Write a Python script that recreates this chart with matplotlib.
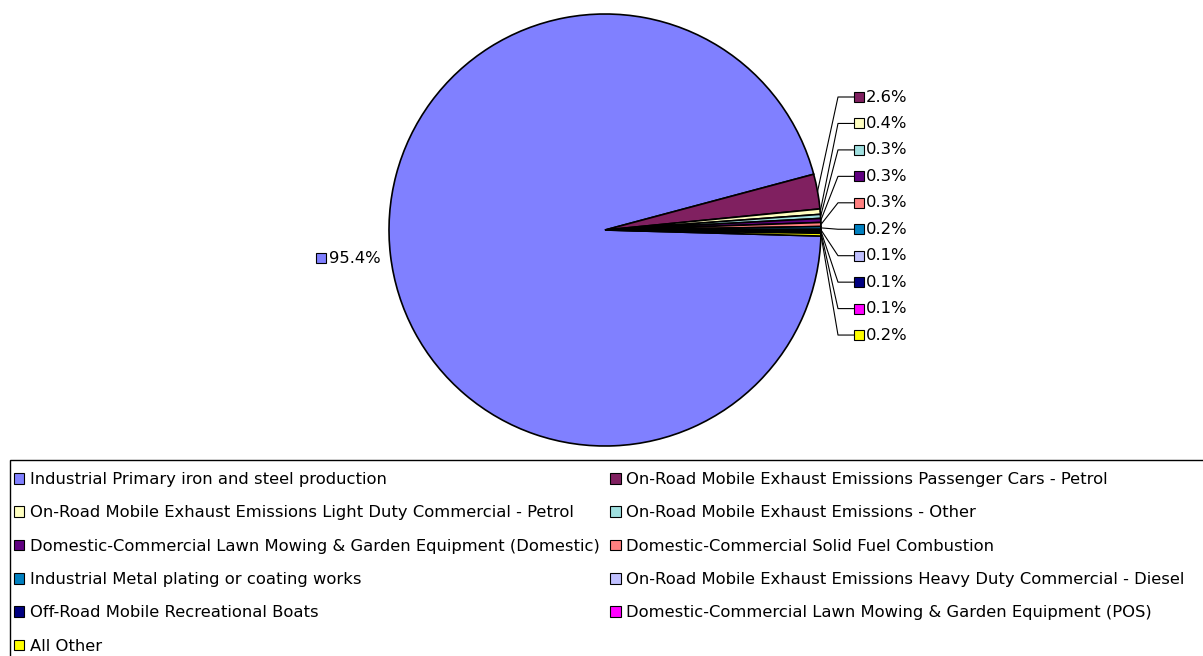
import numpy as np
import matplotlib
matplotlib.use("Agg")
import matplotlib.pyplot as plt
from matplotlib.patches import Patch, Rectangle

plt.rcParams["font.family"] = ["DejaVu Sans"]

categories = [
    "Industrial Primary iron and steel production",
    "On-Road Mobile Exhaust Emissions Passenger Cars - Petrol",
    "On-Road Mobile Exhaust Emissions Light Duty Commercial - Petrol",
    "On-Road Mobile Exhaust Emissions - Other",
    "Domestic-Commercial Lawn Mowing & Garden Equipment (Domestic)",
    "Domestic-Commercial Solid Fuel Combustion",
    "Industrial Metal plating or coating works",
    "On-Road Mobile Exhaust Emissions Heavy Duty Commercial - Diesel",
    "Off-Road Mobile Recreational Boats",
    "Domestic-Commercial Lawn Mowing & Garden Equipment (POS)",
    "All Other",
]
shares = [95.4, 2.6, 0.4, 0.3, 0.3, 0.3, 0.2, 0.1, 0.1, 0.1, 0.2]
colors = ["#8080FF", "#802060", "#FFFFC0", "#A0E0E0", "#600080", "#FF8080",
          "#0080C0", "#C0C0FF", "#000080", "#FF00FF", "#FFFF00"]

W, H = 1203, 656
fig = plt.figure(figsize=(W / 100, H / 100), dpi=100)
fig.patch.set_facecolor("white")

cx, cy, r = 605, 230, 216
ax = fig.add_axes([(cx - r) / W, (H - cy - r) / H, 2 * r / W, 2 * r / H])
wedges, _ = ax.pie(shares, colors=colors, startangle=-1.6, counterclock=False,
                   radius=1.0, wedgeprops=dict(edgecolor="black", linewidth=1.2))
ax.set_xlim(-1, 1)
ax.set_ylim(-1, 1)

fs = 11.8


def px(x, y):
    return (x - cx) / r, (cy - y) / r


# big slice label, placed at its mid angle just outside the pie
w0 = wedges[0]
mid = np.deg2rad((w0.theta1 + w0.theta2) / 2)
lx, ly = np.cos(mid) - 10 / r, np.sin(mid) - 3 / r
ax.text(lx, ly, f"{shares[0]:.1f}%", ha="right", va="center", fontsize=fs,
        clip_on=False)
ax.plot([lx - 59 / r], [ly], marker="s", ms=6.5, mfc=colors[0], mec="black",
        mew=0.8, clip_on=False)

# small slice labels stacked on the right with leader lines
for i, (w, v, c) in enumerate(zip(wedges[1:], shares[1:], colors[1:])):
    mid = np.deg2rad((w.theta1 + w.theta2) / 2)
    ex, ey = np.cos(mid), np.sin(mid)
    _, yy = px(0, 97 + 26.45 * i)
    elbow_x, _ = px(838, 0)
    end_x, _ = px(854, 0)
    box_x, _ = px(859.5, 0)
    txt_x, _ = px(866, 0)
    ax.plot([ex, elbow_x, end_x], [ey, yy, yy], color="black", lw=0.8,
            clip_on=False)
    ax.plot([box_x], [yy], marker="s", ms=6.5, mfc=c, mec="black", mew=0.8,
            clip_on=False)
    ax.text(txt_x, yy, f"{v:.1f}%", ha="left", va="center", fontsize=fs,
            clip_on=False)

# legend (row-wise order, two columns)
handles = [Patch(facecolor=c, edgecolor="black", linewidth=0.8) for c in colors]
order = list(range(0, 11, 2)) + list(range(1, 11, 2))
leg = fig.legend([handles[i] for i in order], [categories[i] for i in order],
                 ncol=2, loc="upper left", bbox_to_anchor=(14 / W, 1 - 472 / H),
                 frameon=False, fontsize=fs, handlelength=0.63, handleheight=0.63,
                 handletextpad=0.33, columnspacing=0.65, labelspacing=1.12,
                 borderpad=0.0, borderaxespad=0.0)
fig.patches.append(Rectangle((10 / W, -0.05), 1.2, 1 - 460 / H + 0.05,
                             transform=fig.transFigure, fill=False,
                             edgecolor="black", linewidth=1.0))

fig.savefig("out.png", dpi=100)
